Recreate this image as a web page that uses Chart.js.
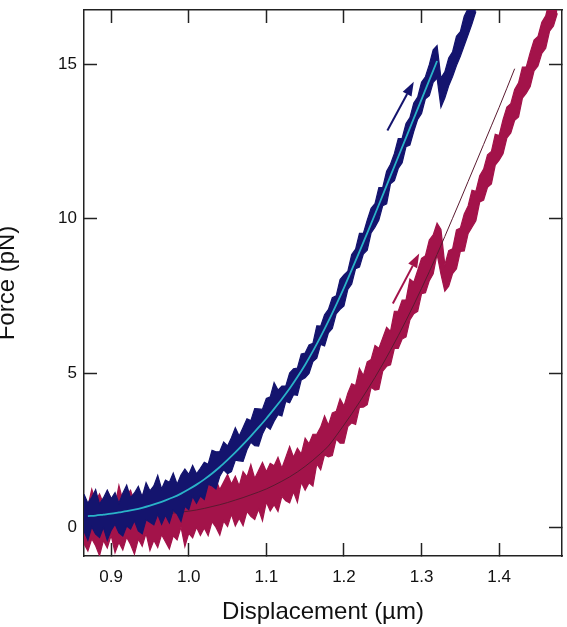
<!DOCTYPE html>
<html>
<head>
<meta charset="utf-8">
<script src="https://cdn.jsdelivr.net/npm/chart.js@4/dist/chart.umd.min.js"></script>
<style>
  html, body { margin: 0; padding: 0; background: #fff; }
  #wrap { width: 567px; height: 627px; }
</style>
</head>
<body>
<div id="wrap"><canvas id="chart" width="567" height="627"></canvas></div>
<script>
// noisy traces are read as an upper and lower edge, every 0.005 µm from 0.865 µm
const traceStart = 0.865;
const traceStep = 0.005;

// approach trace (navy), force in pN
const blueUpper = [
  1.08, 0.79, 0.98, 1.23, 0.76, 0.96, 1.21, 0.93, 1.13, 0.79,
  1.11, 1.37, 0.97, 1.12, 1.33, 1.00, 1.45, 1.19, 1.35, 1.69,
  1.25, 1.54, 1.47, 1.76, 1.40, 1.70, 1.89, 1.72, 2.01, 1.74,
  1.92, 2.11, 2.05, 2.50, 2.45, 2.46, 2.77, 2.64, 2.91, 3.23,
  2.96, 3.24, 3.52, 3.46, 3.85, 3.84, 3.83, 4.18, 4.23, 4.69,
  4.45, 4.58, 4.58, 5.00, 5.14, 5.16, 5.62, 5.65, 5.91, 5.96,
  6.53, 6.52, 6.89, 7.06, 7.44, 7.50, 8.03, 8.18, 8.30, 8.84,
  9.01, 9.52, 9.52, 9.95, 10.33, 10.48, 11.00, 11.01, 11.53, 11.76,
  12.11, 12.59, 12.60, 13.08, 13.27, 13.74, 13.93, 14.41, 14.59, 14.98,
  15.46, 15.60, 14.55, 14.75, 15.20, 15.40, 15.90, 16.05, 16.55, 16.80,
  17.20, 17.50
];
const blueLower = [
  -0.12, -0.41, 0.02, -0.21, -0.32, 0.00, -0.41, -0.09, 0.11, -0.17,
  -0.27, 0.05, -0.05, 0.22, -0.11, -0.20, 0.25, 0.17, 0.09, 0.43,
  0.11, 0.40, 0.15, 0.56, 0.44, 0.20, 0.69, 0.58, 1.01, 0.79,
  1.02, 0.91, 1.40, 1.35, 1.25, 1.66, 1.87, 1.74, 1.81, 2.18,
  2.16, 2.14, 2.52, 2.76, 2.65, 2.64, 3.03, 3.28, 3.18, 3.44,
  3.65, 3.61, 4.08, 4.04, 4.30, 4.28, 4.78, 4.85, 4.99, 5.37,
  5.48, 5.93, 5.88, 6.30, 6.44, 6.92, 7.06, 7.17, 7.71, 7.88,
  8.38, 8.43, 8.85, 8.98, 9.54, 9.72, 9.95, 10.42, 10.48, 11.13,
  11.23, 11.62, 11.81, 12.33, 12.38, 12.82, 13.21, 13.40, 13.88, 13.98,
  14.41, 14.55, 13.60, 13.90, 14.30, 14.60, 14.95, 15.25, 15.60, 15.95,
  16.30, 16.70
];

// second trace (crimson), force in pN
const redUpper = [
  1.00, 0.68, 1.24, 0.85, 1.09, 0.78, 1.18, 0.95, 0.71, 1.36,
  0.88, 1.05, 1.21, 0.82, 1.15, 1.00, 1.33, 0.78, 1.11, 1.28,
  0.97, 1.46, 0.91, 1.25, 1.20, 1.46, 1.07, 1.33, 1.59, 1.21,
  1.36, 1.04, 1.63, 1.31, 1.55, 1.23, 1.47, 1.72, 1.41, 1.66,
  1.35, 1.81, 1.64, 2.04, 1.59, 1.85, 2.11, 1.81, 2.08, 2.00,
  2.27, 1.92, 2.27, 2.62, 2.28, 2.57, 2.38, 2.89, 2.71, 3.02,
  3.02, 3.25, 3.61, 3.31, 3.71, 3.76, 4.17, 3.93, 4.35, 4.65,
  4.60, 5.15, 4.92, 5.36, 5.44, 5.89, 5.80, 6.14, 6.48, 6.35,
  7.00, 7.00, 7.36, 7.37, 8.04, 7.94, 8.32, 8.71, 8.80, 9.31,
  9.47, 9.85, 9.65, 8.50, 8.96, 9.02, 9.63, 9.69, 10.15, 10.41,
  10.92, 10.88, 11.39, 11.60, 12.06, 12.17, 12.73, 12.69, 13.20, 13.61,
  13.72, 14.18, 14.39, 14.90, 14.91, 15.37, 15.78, 15.89, 16.35, 16.56,
  17.07, 17.13, 17.54
];
const redLower = [
  -0.52, -0.76, -0.36, -0.59, -0.91, -0.42, -0.66, -0.25, -0.81, -0.48,
  -0.72, -0.31, -0.55, -0.86, -0.37, -0.60, -0.19, -0.74, -0.41, -0.64,
  -0.23, -0.46, -0.69, -0.27, -0.40, 0.02, -0.61, -0.19, -0.33, 0.01,
  -0.25, -0.01, -0.26, 0.19, 0.01, -0.24, 0.21, 0.04, 0.43, 0.05,
  0.30, 0.06, 0.52, 0.36, 0.26, 0.59, 0.22, 0.83, 0.54, 0.74,
  0.52, 1.01, 0.87, 0.80, 1.16, 0.82, 1.47, 1.21, 1.45, 1.34,
  2.06, 1.87, 2.35, 2.29, 2.33, 2.86, 2.73, 2.73, 3.27, 3.39,
  3.34, 3.89, 3.90, 3.98, 4.54, 4.45, 4.48, 5.06, 5.22, 5.27,
  5.80, 5.80, 6.10, 6.17, 6.72, 6.92, 7.00, 7.57, 7.60, 7.99,
  8.21, 8.85, 8.20, 7.65, 7.81, 8.22, 8.38, 8.94, 8.95, 9.51,
  9.72, 9.93, 10.54, 10.60, 11.01, 11.12, 11.73, 11.89, 12.10, 12.61,
  12.77, 13.18, 13.29, 13.90, 14.06, 14.27, 14.78, 14.94, 15.35, 15.51,
  16.07, 16.23, 16.64
];

// fitted curves, sampled every 0.01 µm starting at 0.87 µm
const fitStart = 0.87;
const fitStep = 0.01;
const blueFit = [
  0.37, 0.39, 0.42, 0.45, 0.49, 0.53, 0.58, 0.64, 0.71, 0.79,
  0.88, 0.98, 1.10, 1.24, 1.39, 1.56, 1.75, 1.96, 2.19, 2.43,
  2.69, 2.96, 3.24, 3.53, 3.84, 4.16, 4.50, 4.87, 5.27, 5.71,
  6.18, 6.68, 7.21, 7.76, 8.34, 8.93, 9.53, 10.14, 10.76, 11.38,
  12.00, 12.62, 13.24, 13.86, 14.48, 15.10
];
const redFit = [
  0.30, 0.31, 0.32, 0.33, 0.34, 0.35, 0.36, 0.38, 0.40, 0.42,
  0.44, 0.47, 0.50, 0.53, 0.57, 0.62, 0.68, 0.74, 0.81, 0.89,
  0.97, 1.06, 1.15, 1.25, 1.37, 1.50, 1.64, 1.80, 1.98, 2.18,
  2.40, 2.64, 2.97, 3.32, 3.68, 4.06, 4.45, 4.86, 5.29, 5.74,
  6.21, 6.70, 7.21, 7.74, 8.28, 8.84, 9.42, 10.01, 10.60, 11.20,
  11.80, 12.40, 13.00, 13.60, 14.22, 14.85
];

// direction arrows: [x from, y from, x to, y to] in axis units
const blueArrow = [1.256, 12.85, 1.290, 14.43];
const redArrow = [1.263, 7.25, 1.297, 8.87];

const xTicks = [0.9, 1.0, 1.1, 1.2, 1.3, 1.4];
const yTicks = [0, 5, 10, 15];

const navy = '#14146e';
const crimson = '#a3134a';
const cyan = '#2ab3c8';
const maroon = '#5a1a30';

function toPoints(start, step, ys) {
  return ys.map((y, i) => ({ x: +(start + i * step).toFixed(4), y: y }));
}

Chart.defaults.font.family = "'Liberation Sans', Arial, Helvetica, sans-serif";
Chart.defaults.color = '#111';

const arrowPlugin = {
  id: 'arrows',
  afterDatasetsDraw(chart) {
    const { ctx, scales: { x, y } } = chart;
    const draw = (a, color) => {
      const x1 = x.getPixelForValue(a[0]), y1 = y.getPixelForValue(a[1]);
      const x2 = x.getPixelForValue(a[2]), y2 = y.getPixelForValue(a[3]);
      const ang = Math.atan2(y2 - y1, x2 - x1);
      const headLen = 14, headW = 5;
      const bx = x2 - headLen * Math.cos(ang), by = y2 - headLen * Math.sin(ang);
      ctx.save();
      ctx.strokeStyle = color;
      ctx.fillStyle = color;
      ctx.lineWidth = 2;
      ctx.beginPath();
      ctx.moveTo(x1, y1);
      ctx.lineTo(bx, by);
      ctx.stroke();
      ctx.beginPath();
      ctx.moveTo(x2, y2);
      ctx.lineTo(bx + headW * Math.sin(ang), by - headW * Math.cos(ang));
      ctx.lineTo(bx - headW * Math.sin(ang), by + headW * Math.cos(ang));
      ctx.closePath();
      ctx.fill();
      ctx.restore();
    };
    draw(blueArrow, navy);
    draw(redArrow, crimson);
  }
};

const frame = { display: true, color: '#222', width: 1.5 };
const grid = { drawOnChartArea: false, drawTicks: true, tickLength: -13, tickWidth: 1.5, tickColor: '#222' };

const xRange = { min: 0.865, max: 1.481 };
const yRange = { min: -0.92, max: 16.75 };

// fixed box sizes so the plot frame lands where the reference has it
function fitBox(size, key) {
  return s => {
    s[key] = size;
    s.paddingLeft = s.paddingRight = s.paddingTop = s.paddingBottom = 0;
  };
}
const setTicks = list => s => { s.ticks = list.map(v => ({ value: v })); };

function edge(label, values, color, order, fillTo) {
  return {
    label: label,
    data: toPoints(traceStart, traceStep, values),
    borderColor: color,
    backgroundColor: color,
    borderWidth: 1.2,
    pointRadius: 0,
    tension: 0,
    fill: fillTo === undefined ? false : fillTo,
    order: order
  };
}

const ctx = document.getElementById('chart').getContext('2d');

const chart = new Chart(ctx, {
  type: 'line',
  data: {
    datasets: [
      {
        label: 'fit 1',
        data: toPoints(fitStart, fitStep, blueFit),
        borderColor: cyan,
        borderWidth: 1.8,
        pointRadius: 0,
        cubicInterpolationMode: 'monotone',
        order: 1
      },
      edge('trace 1 top', blueUpper, navy, 2),
      edge('trace 1 bottom', blueLower, navy, 2, 1),
      {
        label: 'fit 2',
        data: toPoints(fitStart, fitStep, redFit),
        borderColor: maroon,
        borderWidth: 1,
        pointRadius: 0,
        cubicInterpolationMode: 'monotone',
        order: 3
      },
      edge('trace 2 top', redUpper, crimson, 4),
      edge('trace 2 bottom', redLower, crimson, 4, 4)
    ]
  },
  options: {
    responsive: false,
    animation: false,
    parsing: false,
    layout: { padding: 0 },
    plugins: {
      legend: { display: false },
      tooltip: { enabled: false }
    },
    scales: {
      x: {
        type: 'linear',
        position: 'bottom',
        ...xRange,
        bounds: 'data',
        border: frame,
        grid: grid,
        afterBuildTicks: setTicks(xTicks),
        ticks: {
          padding: 24,
          font: { size: 17 },
          maxRotation: 0,
          callback: v => v.toFixed(1)
        },
        title: {
          display: true,
          text: 'Displacement (µm)',
          font: { size: 24 },
          padding: { top: 0, bottom: 0 }
        },
        afterFit: fitBox(71, 'height')
      },
      x2: {
        type: 'linear',
        position: 'top',
        ...xRange,
        bounds: 'data',
        border: frame,
        grid: grid,
        afterBuildTicks: setTicks(xTicks),
        ticks: { display: false },
        afterFit: fitBox(10, 'height')
      },
      y: {
        type: 'linear',
        position: 'left',
        ...yRange,
        bounds: 'data',
        border: frame,
        grid: grid,
        afterBuildTicks: setTicks(yTicks),
        ticks: {
          padding: 20,
          font: { size: 17 },
          callback: v => String(v)
        },
        title: {
          display: true,
          text: 'Force (pN)',
          font: { size: 24 },
          padding: { top: -7, bottom: 0 }
        },
        afterFit: fitBox(84, 'width')
      },
      y2: {
        type: 'linear',
        position: 'right',
        ...yRange,
        bounds: 'data',
        border: frame,
        grid: grid,
        afterBuildTicks: setTicks(yTicks),
        ticks: { display: false },
        afterFit: fitBox(5, 'width')
      }
    }
  },
  plugins: [arrowPlugin]
});
</script>
</body>
</html>
